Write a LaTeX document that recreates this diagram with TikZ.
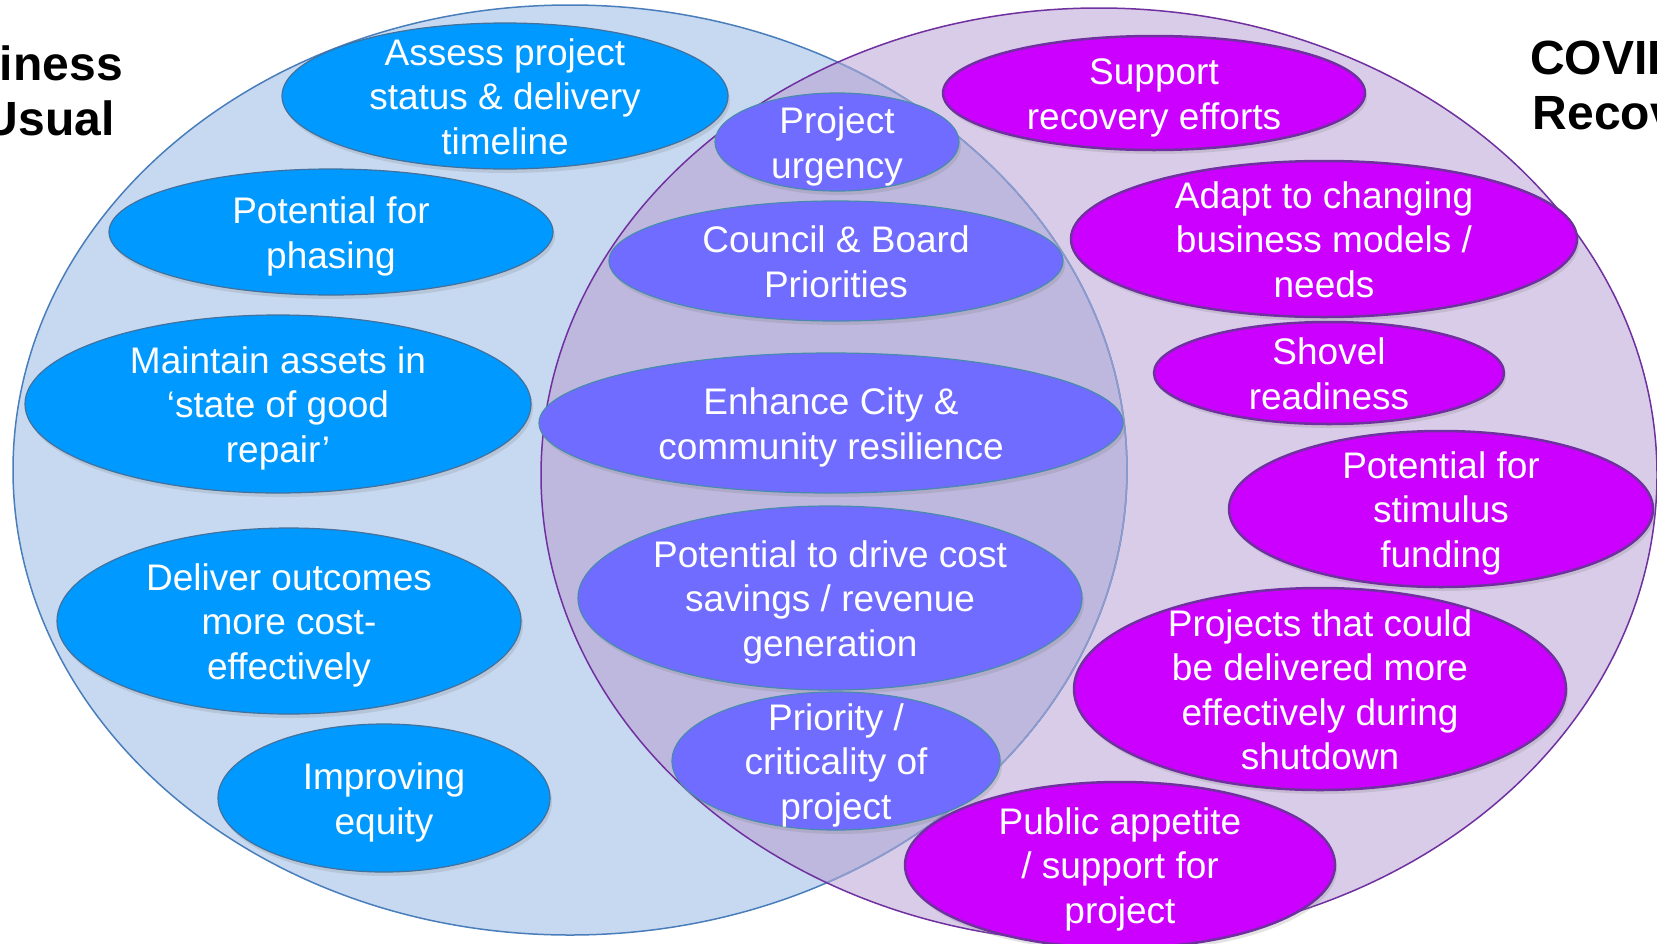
\documentclass[tikz,border=0pt]{standalone}
\usepackage{fontspec}
\setmainfont{Liberation Sans}
\usetikzlibrary{shapes.geometric,shadows}
\definecolor{leftfill}{HTML}{C6D9F1}
\definecolor{leftline}{HTML}{4A7EBB}
\definecolor{leftlinelight}{HTML}{8E9BCC}
\definecolor{rightfill}{HTML}{D8CCE8}
\definecolor{overlapfill}{HTML}{BEB7DE}
\definecolor{rightline}{HTML}{7030A0}
\definecolor{bblue}{HTML}{0099FF}
\definecolor{bblueline}{HTML}{41719C}
\definecolor{midfill}{HTML}{706CFF}
\definecolor{midline}{HTML}{4A8AAE}
\definecolor{purfill}{HTML}{CC00FF}
\definecolor{purline}{HTML}{7030A0}
\newcommand{\lns}[1]{\begin{tabular}{@{}c@{}}#1\end{tabular}}
\begin{document}
\begin{tikzpicture}[x=1pt,y=-1pt,
  bub/.style={ellipse, inner sep=0pt, drop shadow={shadow xshift=2pt,shadow yshift=-4pt,opacity=0.22}},
  blueb/.style={bub, fill=bblue, draw=bblueline, line width=1.2pt},
  midb/.style={bub, fill=midfill, draw=midline, line width=1.2pt},
  purb/.style={bub, fill=purfill, draw=purline, line width=2.5pt},
  txt/.style={text=white, font=\fontsize{37}{44.5}\selectfont, inner sep=0pt, yshift=-5pt},
  ttl/.style={font=\bfseries\fontsize{48}{55}\selectfont, inner sep=0pt, anchor=base}]
\useasboundingbox (0,0) rectangle (1657,943);
\clip (0,0) rectangle (1657,943);
% big circles
\fill[leftfill] (570,470) ellipse [x radius=557pt, y radius=465pt];
\fill[rightfill] (1099,475) ellipse [x radius=558pt, y radius=467pt];
\begin{scope}
  \clip (570,470) ellipse [x radius=557pt, y radius=465pt];
  \fill[overlapfill] (1099,475) ellipse [x radius=558pt, y radius=467pt];
\end{scope}
\draw[leftline, line width=1.5pt] (570,470) ellipse [x radius=557pt, y radius=465pt];
\begin{scope}
  \clip (1099,475) ellipse [x radius=558pt, y radius=467pt];
  \draw[leftlinelight, line width=1.5pt] (570,470) ellipse [x radius=557pt, y radius=465pt];
\end{scope}
\draw[rightline, line width=1.5pt] (1099,475) ellipse [x radius=558pt, y radius=467pt];
% left bubbles
\node[blueb, minimum width=446pt, minimum height=146pt, label={[txt]center:\lns{Assess project\\status \& delivery\\timeline}}] (b1) at (505,96) {};
\node[blueb, minimum width=444pt, minimum height=126pt, label={[txt]center:\lns{Potential for\\phasing}}] (b2) at (331,232) {};
\node[blueb, minimum width=506pt, minimum height=178pt, label={[txt]center:\lns{Maintain assets in\\‘state of good\\repair’}}] (b3) at (278,404) {};
\node[blueb, minimum width=464pt, minimum height=186pt, label={[txt]center:\lns{Deliver outcomes\\more cost-\\effectively}}] (b4) at (289,621) {};
\node[blueb, minimum width=332pt, minimum height=148pt, label={[txt]center:\lns{Improving\\equity}}] (b5) at (384,798) {};
% middle bubbles
\node[midb, minimum width=244pt, minimum height=98pt, label={[txt]center:\lns{Project\\urgency}}] (m1) at (837,142) {};
\node[midb, minimum width=454pt, minimum height=120pt, label={[txt]center:\lns{Council \& Board\\Priorities}}] (m2) at (836,261) {};
\node[midb, minimum width=584pt, minimum height=140pt, label={[txt]center:\lns{Enhance City \&\\community resilience}}] (m3) at (831,423) {};
\node[midb, minimum width=504pt, minimum height=184pt, label={[txt]center:\lns{Potential to drive cost\\savings / revenue\\generation}}] (m4) at (830,598) {};
\node[midb, minimum width=328pt, minimum height=138pt, label={[txt]center:\lns{Priority /\\criticality of\\project}}] (m5) at (836,761) {};
% right bubbles
\node[purb, minimum width=422pt, minimum height=114pt, label={[txt]center:\lns{Support\\recovery efforts}}] (p1) at (1154,93) {};
\node[purb, minimum width=506pt, minimum height=156pt, label={[txt]center:\lns{Adapt to changing\\business models /\\needs}}] (p2) at (1324,239) {};
\node[purb, minimum width=350pt, minimum height=102pt, label={[txt]center:\lns{Shovel\\readiness}}] (p3) at (1329,373) {};
\node[purb, minimum width=424pt, minimum height=156pt, label={[txt]center:\lns{Potential for\\stimulus\\funding}}] (p4) at (1441,509) {};
\node[purb, minimum width=492pt, minimum height=202pt, label={[txt]center:\lns{Projects that could\\be delivered more\\effectively during\\shutdown}}] (p5) at (1320,689) {};
\node[purb, minimum width=430pt, minimum height=166pt, label={[txt]center:\lns{Public appetite\\/ support for\\project}}] (p6) at (1120,865) {};
% titles
\node[ttl] (tleft) at (16,80) {\begin{tabular}[t]{@{}c@{}}Business\\as Usual\end{tabular}};
\node[ttl] (tright) at (1641,74) {\begin{tabular}[t]{@{}c@{}}COVID-19\\Recovery\end{tabular}};
\end{tikzpicture}
\end{document}
